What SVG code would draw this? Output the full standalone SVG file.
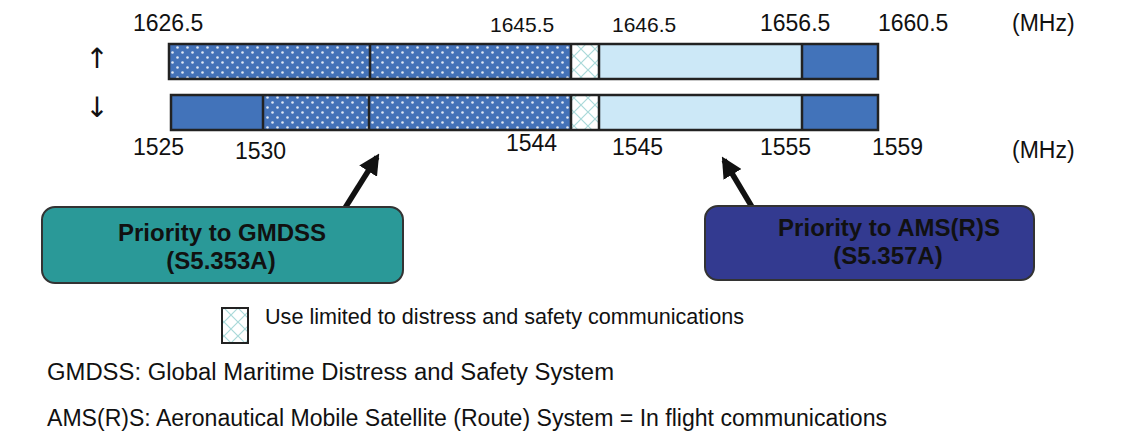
<svg xmlns="http://www.w3.org/2000/svg" width="1145" height="433" viewBox="0 0 1145 433">
<defs>
<pattern id="dots" width="10" height="10" patternUnits="userSpaceOnUse">
<rect width="10" height="10" fill="#4472b8"/>
<circle cx="2.5" cy="2.5" r="1.3" fill="#dfe8f5"/>
<circle cx="7.5" cy="7.5" r="1.3" fill="#dfe8f5"/>
</pattern>
<pattern id="hatch" width="14" height="14" patternUnits="userSpaceOnUse">
<rect width="14" height="14" fill="#ffffff"/>
<path d="M0,0 L14,14 M14,0 L0,14" stroke="#a9d9d9" stroke-width="1.2"/>
</pattern>
<marker id="ah" viewBox="0 0 10 10" refX="8" refY="5" markerWidth="3.8" markerHeight="3.8" orient="auto" markerUnits="strokeWidth">
<path d="M0,0 L10,5 L0,10 z" fill="#111"/>
</marker>
<style>
.bar{stroke:#222;stroke-width:2.5}
.div{stroke:#222;stroke-width:2.5}
.lbl{font-family:"Liberation Sans",Arial,sans-serif;font-size:23px;fill:#111}
.sm{font-size:21px}
.arr{font-family:"DejaVu Sans",sans-serif;font-size:28px;fill:#111;text-anchor:middle}
.box{stroke:#333;stroke-width:2}
.bt{font-family:"Liberation Sans",Arial,sans-serif;font-size:24px;font-weight:bold;fill:#111;text-anchor:middle}
.txt{font-family:"Liberation Sans",Arial,sans-serif;font-size:23.5px;fill:#111}
</style>
</defs>
<rect width="1145" height="433" fill="#ffffff"/>

<g id="uplink">
<rect x="169" y="44" width="202" height="35" fill="url(#dots)"/>
<rect x="371" y="44" width="200" height="35" fill="url(#dots)"/>
<rect x="571" y="44" width="28" height="35" fill="url(#hatch)"/>
<rect x="599" y="44" width="203" height="35" fill="#cce8f7"/>
<rect x="802" y="44" width="76" height="35" fill="#4273ba"/>
<rect class="bar" x="169" y="44" width="709" height="35" fill="none"/>
<line class="div" x1="370" y1="44" x2="370" y2="79"/>
<line class="div" x1="571" y1="44" x2="571" y2="79"/>
<line class="div" x1="599" y1="44" x2="599" y2="79"/>
<line class="div" x1="802" y1="44" x2="802" y2="79"/>
</g>

<g id="downlink">
<rect x="171" y="95" width="92" height="35" fill="#4273ba"/>
<rect x="263" y="95" width="106" height="35" fill="url(#dots)"/>
<rect x="369" y="95" width="202" height="35" fill="url(#dots)"/>
<rect x="571" y="95" width="28" height="35" fill="url(#hatch)"/>
<rect x="599" y="95" width="203" height="35" fill="#cce8f7"/>
<rect x="802" y="95" width="76" height="35" fill="#4273ba"/>
<rect class="bar" x="171" y="95" width="707" height="35" fill="none"/>
<line class="div" x1="263" y1="95" x2="263" y2="130"/>
<line class="div" x1="369" y1="95" x2="369" y2="130"/>
<line class="div" x1="571" y1="95" x2="571" y2="130"/>
<line class="div" x1="599" y1="95" x2="599" y2="130"/>
<line class="div" x1="802" y1="95" x2="802" y2="130"/>
</g>

<g id="labels">
<text class="arr" x="97" y="68">↑</text>
<text class="arr" x="97" y="117">↓</text>
<text class="lbl" x="133" y="31">1626.5</text>
<text class="lbl sm" x="490" y="32">1645.5</text>
<text class="lbl sm" x="612" y="32">1646.5</text>
<text class="lbl" x="760" y="31">1656.5</text>
<text class="lbl" x="878" y="31">1660.5</text>
<text class="lbl" x="1012" y="31">(MHz)</text>
<text class="lbl" x="133" y="155">1525</text>
<text class="lbl" x="235" y="159">1530</text>
<text class="lbl" x="506" y="151">1544</text>
<text class="lbl" x="612" y="155">1545</text>
<text class="lbl" x="760" y="155">1555</text>
<text class="lbl" x="872" y="155">1559</text>
<text class="lbl" x="1012" y="158">(MHz)</text>
</g>

<g id="connectors">
<line x1="345" y1="208" x2="377" y2="157" stroke="#111" stroke-width="5.5" marker-end="url(#ah)"/>
<line x1="752" y1="207" x2="724" y2="160" stroke="#111" stroke-width="5.5" marker-end="url(#ah)"/>
</g>

<g id="gmdss">
<rect class="box" x="42" y="207" width="361" height="76" rx="13" fill="#2a9998"/>
<text class="bt" x="222" y="241">Priority to GMDSS</text>
<text class="bt" x="221" y="269">(S5.353A)</text>
</g>

<g id="amsrs">
<rect class="box" x="705" y="206" width="329" height="74" rx="13" fill="#333a90"/>
<text class="bt" x="889" y="236">Priority to AMS(R)S</text>
<text class="bt" x="888" y="264">(S5.357A)</text>
</g>

<g id="legend">
<rect x="222" y="308" width="26" height="35" fill="url(#hatch)" stroke="#222" stroke-width="2"/>
<text class="txt" x="265" y="324" style="font-size:21.4px" textLength="479" lengthAdjust="spacingAndGlyphs">Use limited to distress and safety communications</text>
<text class="txt" x="47" y="380" textLength="567" lengthAdjust="spacingAndGlyphs">GMDSS: Global Maritime Distress and Safety System</text>
<text class="txt" x="47" y="426" textLength="840" lengthAdjust="spacingAndGlyphs">AMS(R)S: Aeronautical Mobile Satellite (Route) System = In flight communications</text>
</g>
</svg>
